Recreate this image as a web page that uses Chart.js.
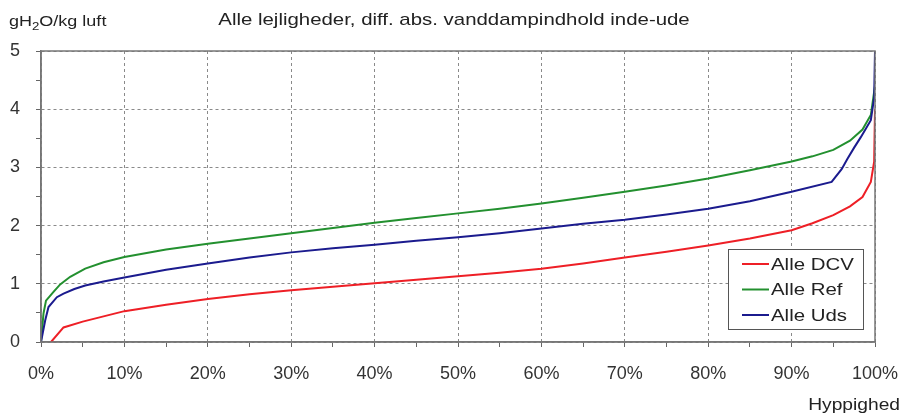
<!DOCTYPE html>
<html>
<head>
<meta charset="utf-8">
<script src="https://cdn.jsdelivr.net/npm/chart.js@4"></script>
<style>
    html, body { margin: 0; padding: 0; background: #fff; }
    #wrap { position: relative; width: 905px; height: 414px; }
</style>
</head>
<body>
<div id="wrap"><canvas id="humidityChart" width="905" height="414"></canvas></div>
<script>
// Hyppighed (%) og diff. abs. vanddampindhold (g/kg)
const dcvX = [1.2, 2.7, 5, 7.5, 10, 15, 20, 25, 30, 35, 40, 45, 50, 55, 60, 65, 70, 75, 80, 85, 90, 92.5, 95, 97, 98.5, 99.5, 99.9, 100];
const dcvY = [0, 0.25, 0.35, 0.44, 0.53, 0.64, 0.74, 0.82, 0.89, 0.95, 1.01, 1.07, 1.13, 1.19, 1.26, 1.35, 1.45, 1.55, 1.66, 1.78, 1.92, 2.04, 2.18, 2.33, 2.49, 2.75, 3.1, 4.0];

const refX = [0, 0.3, 0.6, 1.5, 2.3, 3.5, 5.3, 7.5, 10, 15, 20, 25, 30, 35, 40, 45, 50, 55, 60, 65, 70, 75, 80, 85, 90, 92.5, 95, 97, 98.5, 99.5, 100];
const refY = [0, 0.49, 0.71, 0.86, 0.99, 1.12, 1.26, 1.37, 1.46, 1.59, 1.69, 1.78, 1.87, 1.96, 2.05, 2.13, 2.21, 2.29, 2.38, 2.48, 2.58, 2.69, 2.81, 2.95, 3.10, 3.19, 3.30, 3.46, 3.65, 3.9, 4.4];

const udsX = [0, 0.5, 0.9, 1.9, 2.7, 4, 5.3, 7.5, 10, 15, 20, 25, 30, 35, 40, 45, 50, 55, 60, 65, 70, 75, 80, 85, 90, 94.8, 96, 96.7, 97.5, 98.3, 99.5, 99.9, 100];
const udsY = [0, 0.37, 0.6, 0.77, 0.83, 0.91, 0.97, 1.04, 1.11, 1.24, 1.35, 1.45, 1.54, 1.61, 1.67, 1.74, 1.80, 1.87, 1.95, 2.03, 2.10, 2.19, 2.29, 2.42, 2.58, 2.75, 2.97, 3.15, 3.34, 3.52, 3.81, 4.2, 5.0];

const seriesNames = ['Alle DCV', 'Alle Ref', 'Alle Uds'];
const seriesColors = ['#ee1f26', '#23902f', '#1b1b8e'];

const FONT = '"Liberation Sans", Arial, sans-serif';
const STRETCH = 1.2; // teksten i originalen er bredt trukket

const toPoints = (xs, ys) => xs.map((x, i) => ({ x, y: ys[i] }));

// skriv tekst vandret strakt, x er venstre kant (eller højre ved align right)
function wideText(ctx, text, x, y, align) {
    ctx.save();
    ctx.translate(x, y);
    ctx.scale(STRETCH, 1);
    ctx.textAlign = align || 'left';
    ctx.fillText(text, 0, 0);
    const w = ctx.measureText(text).width * STRETCH;
    ctx.restore();
    return w;
}

// tekst og legende tegnes oven på diagrammet
const overlayPlugin = {
    id: 'overlay',
    afterDraw(chart) {
        const { ctx, chartArea: a } = chart;
        ctx.save();

        // ramme om plotområdet
        ctx.strokeStyle = '#777';
        ctx.lineWidth = 1.5;
        ctx.strokeRect(a.left, a.top, a.right - a.left, a.bottom - a.top);

        ctx.fillStyle = '#222';
        ctx.textBaseline = 'alphabetic';

        // enhed for y-aksen med sænket 2-tal
        ctx.font = '15px ' + FONT;
        let x = 9;
        x += wideText(ctx, 'gH', x, 26);
        ctx.font = '11px ' + FONT;
        x += wideText(ctx, '2', x, 30);
        ctx.font = '15px ' + FONT;
        wideText(ctx, 'O/kg luft', x, 26);

        // titel
        ctx.font = '17px ' + FONT;
        wideText(ctx, 'Alle lejligheder, diff. abs. vanddampindhold inde-ude', 454, 25, 'center');

        // x-aksens navn
        ctx.font = '16px ' + FONT;
        wideText(ctx, 'Hyppighed', 900, 410, 'right');

        // legende
        const box = { x: 728, y: 249, w: 135, h: 80 };
        ctx.fillStyle = '#fff';
        ctx.fillRect(box.x, box.y, box.w, box.h);
        ctx.strokeStyle = '#555';
        ctx.lineWidth = 1;
        ctx.strokeRect(box.x + 0.5, box.y + 0.5, box.w, box.h);
        ctx.font = '17px ' + FONT;
        ctx.textBaseline = 'middle';
        seriesNames.forEach((name, i) => {
            const cy = box.y + 15 + i * 25.5;
            ctx.strokeStyle = seriesColors[i];
            ctx.lineWidth = 2;
            ctx.beginPath();
            ctx.moveTo(742, cy);
            ctx.lineTo(769, cy);
            ctx.stroke();
            ctx.fillStyle = '#222';
            wideText(ctx, name, 771, cy + 1);
        });
        ctx.restore();
    }
};

const gridColor = (step) => (c) => {
    const v = c.tick ? c.tick.value : 0;
    return Math.abs(v / step - Math.round(v / step)) < 1e-6 ? '#8a8a8a' : 'rgba(0,0,0,0)';
};

new Chart(document.getElementById('humidityChart').getContext('2d'), {
    type: 'line',
    data: {
        datasets: [
            { label: seriesNames[0], data: toPoints(dcvX, dcvY), borderColor: seriesColors[0], order: 2 },
            { label: seriesNames[1], data: toPoints(refX, refY), borderColor: seriesColors[1], order: 1 },
            { label: seriesNames[2], data: toPoints(udsX, udsY), borderColor: seriesColors[2], order: 0 }
        ].map(d => ({ ...d, borderWidth: 2, pointRadius: 0, tension: 0, fill: false }))
    },
    options: {
        responsive: false,
        animation: false,
        layout: { padding: { top: 51, right: 30, left: 0, bottom: 0 } },
        plugins: { legend: { display: false }, tooltip: { enabled: false } },
        scales: {
            x: {
                type: 'linear',
                min: 0,
                max: 100,
                afterFit: (s) => { s.height = 72; s.paddingLeft = 0; s.paddingRight = 0; },
                ticks: {
                    stepSize: 5,
                    autoSkip: false,
                    maxRotation: 0,
                    padding: 16,
                    color: '#333',
                    font: { family: FONT, size: 18 },
                    callback: (v) => (v % 10 === 0 ? v + '%' : '')
                },
                grid: { color: gridColor(10), lineWidth: 1, tickColor: '#666', tickLength: 5, tickBorderDash: [] },
                border: { color: '#777', width: 1.5, dash: [3, 3] }
            },
            y: {
                min: 0,
                max: 5,
                afterFit: (s) => { s.width = 41; s.paddingTop = 0; s.paddingBottom = 0; },
                ticks: {
                    stepSize: 0.5,
                    autoSkip: false,
                    padding: 16,
                    color: '#333',
                    font: { family: FONT, size: 18 },
                    callback: (v) => (Number.isInteger(v) ? String(v) : '')
                },
                grid: { color: gridColor(1), lineWidth: 1, tickColor: '#666', tickLength: 5, tickBorderDash: [] },
                border: { color: '#777', width: 1.5, dash: [3, 3] }
            }
        }
    },
    plugins: [overlayPlugin]
});
</script>
</body>
</html>
